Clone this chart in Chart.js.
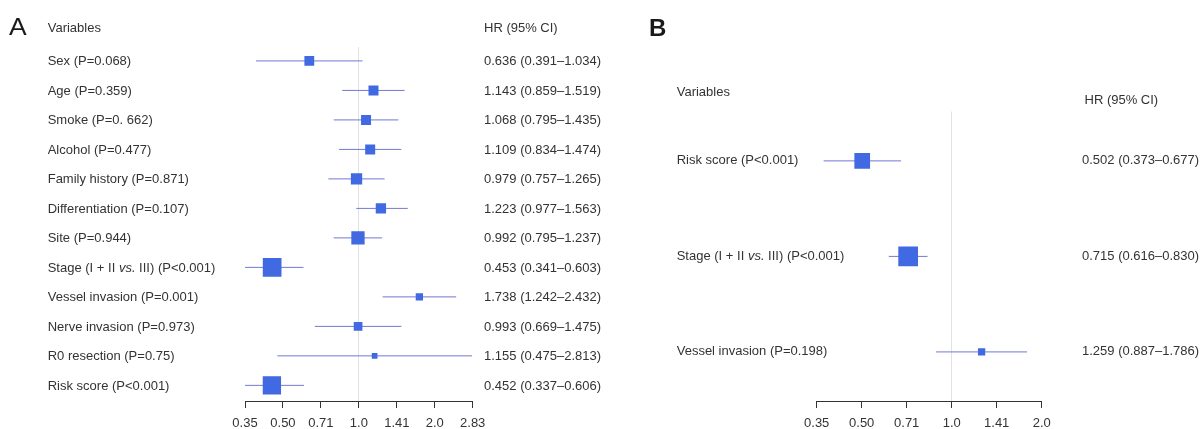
<!DOCTYPE html>
<html><head><meta charset="utf-8">
<script src="https://cdn.jsdelivr.net/npm/chart.js@4"></script>
<style>
html,body{margin:0;padding:0;background:#fff;overflow:hidden;width:1200px;height:429px;}
canvas{position:absolute;top:0;}
#ca{left:0;} #cb{left:640px;}
</style></head><body>
<canvas id="ca" width="640" height="438"></canvas>
<canvas id="cb" width="560" height="438"></canvas>
<script>
// ---------- Panel A data ----------
const variablesA = [
  "Sex (P=0.068)", "Age (P=0.359)", "Smoke (P=0. 662)", "Alcohol (P=0.477)",
  "Family history (P=0.871)", "Differentiation (P=0.107)", "Site (P=0.944)",
  "Stage (I + II *vs.* III) (P<0.001)", "Vessel invasion (P=0.001)",
  "Nerve invasion (P=0.973)", "R0 resection (P=0.75)", "Risk score (P<0.001)"
];
const hrA = [0.636, 1.143, 1.068, 1.109, 0.979, 1.223, 0.992, 0.453, 1.738, 0.993, 1.155, 0.452];
const lowA = [0.391, 0.859, 0.795, 0.834, 0.757, 0.977, 0.795, 0.341, 1.242, 0.669, 0.475, 0.337];
const highA = [1.034, 1.519, 1.435, 1.474, 1.265, 1.563, 1.237, 0.603, 2.432, 1.475, 2.813, 0.606];
const tickValuesA = [0.35355, 0.5, 0.70711, 1, 1.41421, 2, 2.82843];
const tickLabelsA = ["0.35", "0.50", "0.71", "1.0", "1.41", "2.0", "2.83"];

// ---------- Panel B data ----------
const variablesB = ["Risk score (P<0.001)", "Stage (I + II *vs.* III) (P<0.001)", "Vessel invasion (P=0.198)"];
const hrB = [0.502, 0.715, 1.259];
const lowB = [0.373, 0.616, 0.887];
const highB = [0.677, 0.830, 1.786];
const tickValuesB = [0.35355, 0.5, 0.70711, 1, 1.41421, 2];
const tickLabelsB = ["0.35", "0.50", "0.71", "1.0", "1.41", "2.0"];

// ---------- styles (box side in px) ----------
const boxSideA = [9.8, 10, 10, 10, 11.3, 10.3, 13.3, 18.7, 7.3, 8.7, 5.7, 18.3];
const boxSideB = [15.7, 19.7, 7.3];

const FONT = '"Liberation Sans", Arial, Helvetica, sans-serif';
const TEXT = '#333333';
const BOX = '#4169E1';
const CI = '#7179d4';

function fmt(v) { return v.toFixed(3); }

function drawRich(ctx, str, x, y) {
  const parts = str.split('*');
  let cx = x;
  parts.forEach((p, i) => {
    ctx.font = (i % 2 ? 'italic ' : '') + '13px ' + FONT;
    ctx.fillText(p, cx, y);
    cx += ctx.measureText(p).width;
  });
}

function textPlugin(o) {
  return {
    id: 'txt' + o.letter,
    afterDraw(chart) {
      const ctx = chart.ctx;
      const ys = chart.scales.y;
      ctx.save();
      ctx.fillStyle = '#1a1a1a';
      ctx.textBaseline = 'alphabetic';
      ctx.textAlign = 'left';
      ctx.font = o.letterFont;
      ctx.save();
      ctx.translate(o.letterX, o.letterY);
      ctx.scale(o.letterStretch, 1);
      ctx.fillText(o.letter, 0, 0);
      ctx.restore();
      ctx.fillStyle = TEXT;
      ctx.textBaseline = 'middle';
      ctx.font = '13px ' + FONT;
      ctx.fillText('Variables', o.labelX, o.varHeadY);
      ctx.fillText('HR (95% CI)', o.hrHeadX, o.hrHeadY);
      o.labels.forEach((lab, i) => {
        const y = ys.getPixelForValue(i) + o.dy;
        drawRich(ctx, lab, o.labelX, y);
        ctx.font = '13px ' + FONT;
        ctx.fillText(fmt(o.hr[i]) + ' (' + fmt(o.lo[i]) + '\u2013' + fmt(o.hi[i]) + ')', o.hrX, y);
      });
      ctx.restore();
    }
  };
}

function makeChart(id, o) {
  const datasets = [{
    data: o.hr.map((v, i) => ({x: v, y: i})),
    pointStyle: 'rect',
    pointRadius: o.box.map(s => s / Math.SQRT2),
    pointHoverRadius: o.box.map(s => s / Math.SQRT2),
    backgroundColor: BOX,
    borderColor: BOX,
    borderWidth: 0,
    showLine: false,
    order: 0
  }];
  o.hr.forEach((v, i) => {
    datasets.push({
      data: [{x: o.lo[i], y: i}, {x: o.hi[i], y: i}],
      showLine: true,
      borderColor: CI,
      borderWidth: 1,
      pointRadius: 0,
      order: 1
    });
  });
  return new Chart(document.getElementById(id), {
    type: 'scatter',
    data: {datasets},
    options: {
      responsive: false,
      animation: false,
      devicePixelRatio: 1,
      layout: {padding: o.padding},
      plugins: {legend: {display: false}, tooltip: {enabled: false}},
      scales: {
        x: {
          type: 'logarithmic',
          min: o.ticks[0],
          max: o.ticks[o.ticks.length - 1],
          afterBuildTicks: s => { s.ticks = o.ticks.map(v => ({value: v})); },
          ticks: {
            autoSkip: false, maxRotation: 0, padding: 8.5,
            color: TEXT,
            font: {family: FONT, size: 13, lineHeight: 1},
            callback: (v, i) => o.tickLabels[i]
          },
          grid: {
            color: c => (c.tick && Math.abs(c.tick.value - 1) < 1e-9) ? '#e2e2e2' : 'rgba(0,0,0,0)',
            tickColor: '#333333',
            tickLength: 7,
            lineWidth: 1
          },
          border: {display: true, color: '#333333', width: 1}
        },
        y: {type: 'linear', reverse: true, min: o.ymin, max: o.ymax, display: false}
      }
    },
    plugins: [textPlugin(o)]
  });
}

makeChart('ca', {
  letter: 'A', letterFont: '23px ' + FONT, letterStretch: 1.15, letterX: 9, letterY: 35,
  labels: variablesA, hr: hrA, lo: lowA, hi: highA, box: boxSideA,
  ticks: tickValuesA, tickLabels: tickLabelsA,
  padding: {left: 245, right: 167.3, top: 47, bottom: 0},
  ymin: -0.472, ymax: 11.53,
  labelX: 47.7, varHeadY: 28.3, hrHeadX: 484, hrHeadY: 28.3, hrX: 484, dy: 1
});

makeChart('cb', {
  letter: 'B', letterFont: 'bold 24px ' + FONT, letterStretch: 1, letterX: 9, letterY: 35.8,
  labels: variablesB, hr: hrB, lo: lowB, hi: highB, box: boxSideB,
  ticks: tickValuesB, tickLabels: tickLabelsB,
  padding: {left: 176.7, right: 158.3, top: 111.5, bottom: 0},
  ymin: -0.517, ymax: 2.514,
  labelX: 36.7, varHeadY: 92.7, hrHeadX: 444.5, hrHeadY: 100.6, hrX: 442, dy: 0
});
</script>
</body></html>
